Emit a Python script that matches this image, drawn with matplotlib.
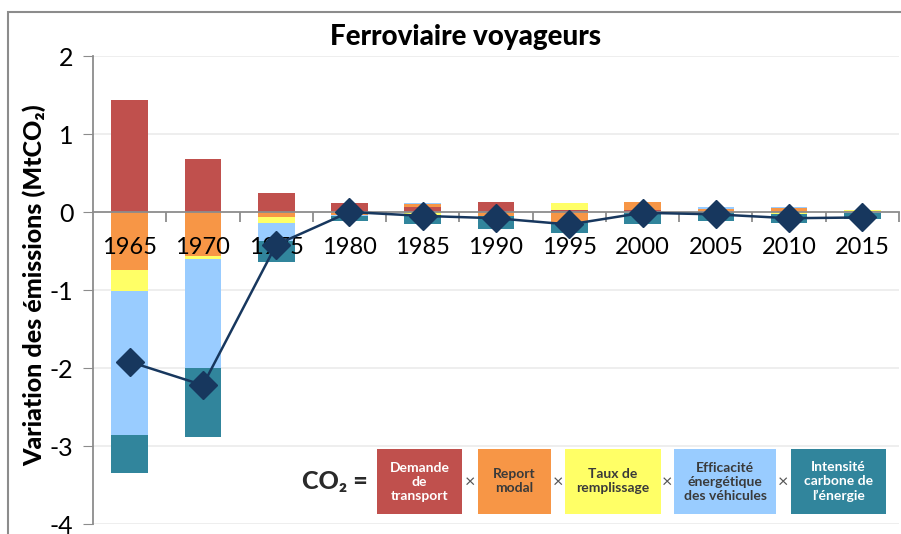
import matplotlib

matplotlib.use("Agg")
import matplotlib.pyplot as plt
import numpy as np
from matplotlib.patches import Rectangle

plt.rcParams["font.family"] = ["Lato", "DejaVu Sans"]
plt.rcParams["axes.unicode_minus"] = False

years = ["1965", "1970", "1975", "1980", "1985", "1990", "1995", "2000", "2005", "2010", "2015"]

# contributions (MtCO2)
demande = [1.43, 0.675, 0.25, 0.11, 0.07, 0.13, 0.02, 0.03, 0.0, 0.0, 0.0]
report = [-0.74, -0.565, -0.06, -0.04, 0.03, -0.05, -0.13, 0.10, 0.04, 0.05, 0.01]
remplissage = [-0.27, -0.035, -0.077, 0.0, -0.04, 0.0, 0.09, 0.0, 0.0, -0.03, 0.01]
efficacite = [-1.85, -1.40, -0.24, -0.01, 0.01, 0.0, 0.0, -0.01, 0.02, 0.01, -0.01]
intensite = [-0.48, -0.89, -0.27, -0.06, -0.12, -0.17, -0.14, -0.14, -0.11, -0.11, -0.08]
total = [-1.92, -2.22, -0.42, 0.0, -0.05, -0.08, -0.16, -0.01, -0.03, -0.08, -0.07]

series = [demande, report, remplissage, efficacite, intensite]
colors = ["#C0504D", "#F79646", "#FFFF66", "#99CCFF", "#31859C"]
legend_labels = [
    "Demande\nde\ntransport",
    "Report\nmodal",
    "Taux de\nremplissage",
    "Efficacité\nénergétique\ndes véhicules",
    "Intensité\ncarbone de\nl\u2019énergie",
]
legend_text_colors = ["white", "#3A3A3A", "#3A3A3A", "#3A3A3A", "white"]

W, H = 901, 534
fig = plt.figure(figsize=(W / 100, H / 100), dpi=100)
ax = fig.add_axes([93 / W, 10 / H, 806 / W, 468 / H])

x = np.arange(len(years))
pos_base = np.zeros(len(years))
neg_base = np.zeros(len(years))
for vals, c in zip(series, colors):
    v = np.array(vals)
    pos = np.where(v > 0, v, 0)
    neg = np.where(v < 0, v, 0)
    ax.bar(x, pos, 0.5, bottom=pos_base, color=c, zorder=1)
    ax.bar(x, neg, 0.5, bottom=neg_base, color=c, zorder=1)
    pos_base += pos
    neg_base += neg

ax.plot(x, total, color="#17375E", lw=1.8, marker="D", ms=14, zorder=3)

for yv in range(-4, 3):
    if yv != 0:
        ax.axhline(yv, color="#EBEBEB", lw=1.2, zorder=0)

ax.set_xlim(-0.5, len(years) - 0.5)
ax.set_ylim(-4, 2)
ax.set_yticks(range(-4, 3))
ax.tick_params(axis="y", labelsize=18, length=7, color="#8C8C8C", pad=7)

ax.spines["top"].set_visible(False)
ax.spines["right"].set_visible(False)
ax.spines["left"].set_color("#8C8C8C")
ax.spines["bottom"].set_color("#8C8C8C")
ax.spines["left"].set_linewidth(1.3)
ax.spines["bottom"].set_linewidth(1.3)
ax.spines["bottom"].set_position(("data", 0))

ax.set_xticks(x)
ax.set_xticklabels(years)
ax.set_xticks(np.arange(0.5, len(years)), minor=True)
ax.tick_params(axis="x", which="major", length=0, labelsize=17, pad=18)
ax.tick_params(axis="x", which="minor", length=7, color="#8C8C8C", width=1.3)

fig.text(466 / W, 1 - 37 / H, "Ferroviaire voyageurs", ha="center", va="center",
         fontsize=20, fontweight="black")
fig.text(34 / W, 1 - 285 / H, "Variation des émissions (MtCO\u2082)", rotation=90,
         ha="center", va="center", fontsize=18, fontweight="black")

# outer frame of the chart area
fig.patches.append(Rectangle((8 / W, -0.1), 1.2, 1 - 12 / H + 0.1, transform=fig.transFigure,
                             fill=False, edgecolor="#8C8C8C", lw=1.5))

# equation legend (pixel coordinates)
lg = fig.add_axes([0, 0, 1, 1], zorder=5)
lg.set_xlim(0, W)
lg.set_ylim(H, 0)
lg.axis("off")
lg.patch.set_alpha(0)
boxes = [(377, 462), (478, 551), (565, 661), (674, 776), (791, 886)]
top, bottom = 449, 514
lg.text(335, 482, "CO\u2082 =", ha="center", va="center", fontsize=18,
        fontweight="black", color="#2A2A2A")
for i, ((x0, x1), c, lab, tc) in enumerate(zip(boxes, colors, legend_labels, legend_text_colors)):
    lg.add_patch(Rectangle((x0, top), x1 - x0, bottom - top, facecolor=c, edgecolor="none"))
    lg.text((x0 + x1) / 2, (top + bottom) / 2, lab, ha="center", va="center", fontsize=10,
            fontweight="bold", color=tc, linespacing=1.2)
    if i < len(boxes) - 1:
        lg.text((x1 + boxes[i + 1][0]) / 2, 482, "\u00d7", ha="center", va="center",
                fontsize=13, color="#555555")

fig.savefig("out.png", dpi=100)
